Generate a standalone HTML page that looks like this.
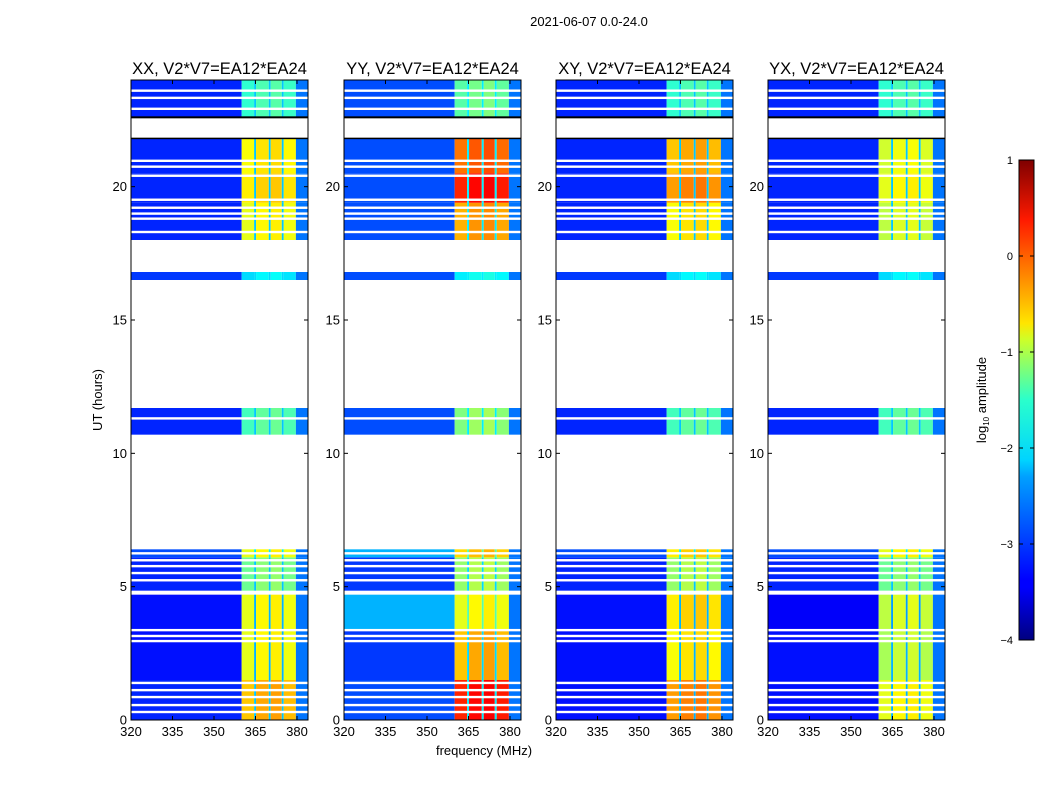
<!DOCTYPE html>
<html><head><meta charset="utf-8">
<style>
html,body{margin:0;padding:0;background:#fff;}
svg{display:block;font-family:"Liberation Sans",sans-serif;}
</style></head>
<body>
<svg id="fig" width="1050" height="800" viewBox="0 0 1050 800">
<defs>
<linearGradient id="jet" x1="0" y1="1" x2="0" y2="0">
<stop offset="0" stop-color="#00007f"/>
<stop offset="0.11" stop-color="#0000ff"/>
<stop offset="0.125" stop-color="#0000ff"/>
<stop offset="0.34" stop-color="#00a0ff"/>
<stop offset="0.375" stop-color="#00d4ff"/>
<stop offset="0.5" stop-color="#2affcc"/>
<stop offset="0.625" stop-color="#ccff2a"/>
<stop offset="0.66" stop-color="#ffe500"/>
<stop offset="0.875" stop-color="#ff1a00"/>
<stop offset="1" stop-color="#7f0000"/>
</linearGradient>
</defs>
<text x="589" y="26" font-size="13" text-anchor="middle">2021-06-07 0.0-24.0</text>
<g id="panels"></g>
<text transform="translate(102,400) rotate(-90)" font-size="13" text-anchor="middle">UT (hours)</text>
<text x="484" y="755" font-size="13" text-anchor="middle">frequency (MHz)</text>
<g id="cbar"></g>
</svg>
<script>
// ---- data ----
const panelTitles = ["XX, V2*V7=EA12*EA24","YY, V2*V7=EA12*EA24","XY, V2*V7=EA12*EA24","YX, V2*V7=EA12*EA24"];
const segStart = [0, 1.5, 3.4, 4.85, 6.1, 10.7, 16.5, 18.0, 19.4, 20.5, 22.6];
const segEnd   = [1.5, 3.4, 4.7, 6.1, 6.4, 11.7, 16.8, 19.4, 20.5, 21.8, 24.0];
const lowXX  = [-3.2,-3.3,-3.3,-3.2,-3.0,-3.2,-3.1,-3.2,-3.2,-3.2,-3.2];
const highXX = [-0.6,-1.0,-1.0,-1.6,-1.0,-1.8,-2.3,-1.0,-0.8,-0.9,-1.9];
const lowYY  = [-3.0,-3.1,-2.5,-3.1,-2.5,-3.0,-3.0,-3.0,-3.0,-3.0,-3.0];
const highYY = [ 0.2,-0.6,-1.0,-1.4,-0.7,-1.5,-2.2,-0.5, 0.2,-0.2,-1.7];
const lowXY  = [-3.3,-3.3,-3.3,-3.2,-3.0,-3.2,-3.1,-3.2,-3.2,-3.2,-3.2];
const highXY = [-0.4,-0.9,-0.8,-1.4,-0.8,-1.8,-2.3,-0.9,-0.4,-0.6,-1.9];
const lowYX  = [-3.3,-3.3,-3.4,-3.2,-3.0,-3.2,-3.1,-3.2,-3.2,-3.2,-3.2];
const highYX = [-1.0,-1.3,-1.2,-1.6,-1.0,-1.8,-2.3,-1.2,-1.0,-1.1,-1.9];
const lowLevels = [lowXX, lowYY, lowXY, lowYX];
const highLevels = [highXX, highYY, highXY, highYX];
const subBandEdges = [360, 364.5, 365.2, 369.8, 370.5, 374.5, 375.2, 379.6, 384];
const subBandOffset = [0.0, -1.2, 0.15, -1.2, 0.2, -1.2, 0.05, -99];
const edgeBandLevel = -2.8;
const flagHours = [23.6,23.33,22.92,20.97,20.75,20.41,19.51,19.21,18.99,18.8,18.3,11.31,6.25,5.99,5.77,5.51,5.24,3.37,3.15,2.96,1.39,1.12,0.86,0.56,0.3];
const yTicks = [0,5,10,15,20];
const xTicks = [320,335,350,365,380];
const cbTicks = [1,0,-1,-2,-3,-4];

// ---- scales ----
const panelLeft = [131,344,556,768];
const PW = 177, PT = 80, PB = 720;
const fx = (i,f)=> panelLeft[i] + (f-320)*(166/60);
const hy = h => PB - h*(PB-PT)/24;
function jet(v){
  let t = (v+4)/5; t=Math.max(0,Math.min(1,t));
  const r = Math.max(0,Math.min(1,Math.min(4*t-1.5,-4*t+4.5)));
  const g = Math.max(0,Math.min(1,Math.min(4*t-0.5,-4*t+3.5)));
  const b = Math.max(0,Math.min(1,Math.min(4*t+0.5,-4*t+2.5)));
  return `rgb(${Math.round(r*255)},${Math.round(g*255)},${Math.round(b*255)})`;
}
const NS="http://www.w3.org/2000/svg";
function mk(tag,attrs,parent){const e=document.createElementNS(NS,tag);for(const k in attrs)e.setAttribute(k,attrs[k]);parent.appendChild(e);return e;}
const root=document.getElementById('panels');
for(let p=0;p<4;p++){
  const g=mk('g',{},root);
  
  
  const x0=panelLeft[p];
  mk('rect',{x:x0,y:PT,width:PW,height:PB-PT,fill:'#fff'},g);
  for(let s=0;s<segStart.length;s++){
    const y1=hy(segEnd[s]), y2=hy(segStart[s]);
    const lo=mk('rect',{x:x0,y:y1,width:fx(p,360)-x0,height:y2-y1,fill:jet(lowLevels[p][s])},g);
    
    
    for(let b=0;b<subBandOffset.length;b++){
      const v = subBandOffset[b]<-50 ? edgeBandLevel : (subBandOffset[b]<-1 ? lowLevels[p][s]+0.8 : highLevels[p][s]+subBandOffset[b]);
      const xa=fx(p,subBandEdges[b]), xb=Math.min(fx(p,subBandEdges[b+1]),x0+PW);
      const c=mk('rect',{x:xa,y:y1,width:xb-xa,height:y2-y1,fill:jet(v)},g);
      
      
    }
  }
  for(const h of flagHours){
    const fl=mk('rect',{x:x0,y:hy(h)-1.2,width:PW,height:2.4,fill:'#fff'},g);
    
    
  }
  mk('rect',{x:x0,y:hy(22.6)-1,width:PW,height:2,fill:'#000'},g);
  mk('rect',{x:x0,y:hy(21.8)-1,width:PW,height:1.5,fill:'#000'},g);
  mk('rect',{x:x0,y:PT,width:PW,height:PB-PT,fill:'none',stroke:'#000','stroke-width':1},g);
  const t=mk('text',{x:x0+PW/2,y:74,'font-size':16.5,'text-anchor':'middle'},g);
  t.textContent=panelTitles[p];
  
  
  for(const v of yTicks){
    const y=hy(v);
    mk('line',{x1:x0,x2:x0+4,y1:y,y2:y,stroke:'#000'},g);
    mk('line',{x1:x0+PW-4,x2:x0+PW,y1:y,y2:y,stroke:'#000'},g);
    const l=mk('text',{x:x0-4,y:y+4.5,'font-size':13,'text-anchor':'end'},g);
    l.textContent=v;
    
    
  }
  for(const v of xTicks){
    const x=fx(p,v);
    mk('line',{x1:x,x2:x,y1:PB,y2:PB-4,stroke:'#000'},g);
    mk('line',{x1:x,x2:x,y1:PT,y2:PT+4,stroke:'#000'},g);
    const l=mk('text',{x:x,y:PB+16,'font-size':13,'text-anchor':'middle'},g);
    l.textContent=v;
    
    
  }
}
// colorbar
const cb=document.getElementById('cbar');
const CT=160, CB=640, CX=1019, CW=15;
const cy=v=>CB-(v+4)*(CB-CT)/5;
mk('rect',{x:CX,y:CT,width:CW,height:CB-CT,fill:'url(#jet)',stroke:'#000','stroke-width':1},cb);
for(const v of cbTicks){
  const y=cy(v);
  mk('line',{x1:CX,x2:CX+4,y1:y,y2:y,stroke:'#000'},cb);
  mk('line',{x1:CX+CW-4,x2:CX+CW,y1:y,y2:y,stroke:'#000'},cb);
  const l=mk('text',{x:1013,y:y+4,'font-size':11,'text-anchor':'end'},cb);
  l.textContent=(v<0?'\u2212'+(-v):v);
  
  
}
const cl=mk('text',{transform:'translate(986,400) rotate(-90)','font-size':13,'text-anchor':'middle'},cb);
cl.innerHTML='log<tspan font-size="8" dy="3">10</tspan><tspan dy="-3"> amplitude</tspan>';


</script>
</body></html>
